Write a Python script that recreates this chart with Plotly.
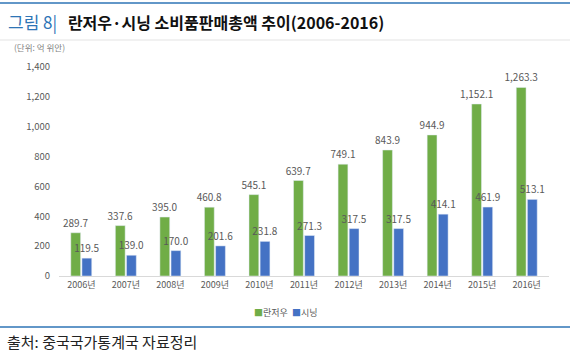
import plotly.graph_objects as go

years = ["2006년", "2007년", "2008년", "2009년", "2010년", "2011년",
         "2012년", "2013년", "2014년", "2015년", "2016년"]
lanzhou = [289.7, 337.6, 395.0, 460.8, 545.1, 639.7, 749.1, 843.9, 944.9, 1152.1, 1263.3]
xining = [119.5, 139.0, 170.0, 201.6, 231.8, 271.3, 317.5, 317.5, 414.1, 461.9, 513.1]
series_names = ["란저우", "시닝"]
series_colors = ["#70AD47", "#4472C4"]
yticks = [0, 200, 400, 600, 800, 1000, 1200, 1400]

W, H = 570, 360
FONT = "Noto Sans CJK KR"
GRAY = "#595959"

fig = go.Figure()
for name, vals, color in zip(series_names, [lanzhou, xining], series_colors):
    fig.add_trace(go.Bar(
        x=years, y=vals, name=name, marker_color=color,
        texttemplate="%{y:,.1f}", textposition="outside",
        constraintext="none",
        textfont=dict(family=FONT, size=10, color=GRAY),
        outsidetextfont=dict(family=FONT, size=10, color=GRAY),
        cliponaxis=False, showlegend=False,
    ))

legend_text = "  ".join(
    f"<span style='color:{c}'>■</span>{n}" for n, c in zip(series_names, series_colors))

fig.update_layout(
    width=W, height=H,
    margin=dict(l=0, r=0, t=0, b=0, autoexpand=False),
    paper_bgcolor="white", plot_bgcolor="white",
    barmode="group", bargap=0.5, bargroupgap=0.12,
    font=dict(family=FONT, color=GRAY),
    xaxis=dict(domain=[59 / W, 549 / W], showline=True, linecolor="#D9D9D9",
               linewidth=1, ticks="", tickfont=dict(family=FONT, size=9, color=GRAY)),
    yaxis=dict(domain=[(H - 276) / H, (H - 67) / H], range=[0, 1400],
               tickvals=yticks, tickformat=",", showgrid=False, zeroline=False,
               showline=False, ticklabelstandoff=8,
               tickfont=dict(family=FONT, size=9.5, color=GRAY)),
    shapes=[
        dict(type="line", xref="paper", yref="paper", x0=0, x1=1,
             y0=(H - 3) / H, y1=(H - 3) / H, line=dict(color="#2E75B6", width=1.5)),
        dict(type="line", xref="paper", yref="paper", x0=0, x1=1,
             y0=(H - 40) / H, y1=(H - 40) / H, line=dict(color="#E3E3E3", width=1)),
        dict(type="line", xref="paper", yref="paper", x0=0, x1=1,
             y0=(H - 327) / H, y1=(H - 327) / H, line=dict(color="#2E75B6", width=1.5)),
    ],
    annotations=[
        dict(xref="paper", yref="paper", x=6 / W, y=(H - 21) / H,
             xanchor="left", yanchor="middle", showarrow=False,
             text="<span style='color:#2E75B6;font-size:17px'>그림 8|</span>&nbsp;&nbsp;&nbsp;<b>란저우·시닝 소비품판매총액 추이(2006-2016)</b>",
             font=dict(family=FONT, size=16, color="#111111")),
        dict(xref="paper", yref="paper", x=12 / W, y=(H - 47) / H,
             xanchor="left", yanchor="middle", showarrow=False,
             text="(단위: 억 위안)", font=dict(family=FONT, size=8.5, color="#7F7F7F")),
        dict(xref="paper", yref="paper", x=0.5, y=(H - 312) / H,
             xanchor="center", yanchor="middle", showarrow=False,
             text=legend_text, font=dict(family=FONT, size=9, color=GRAY)),
        dict(xref="paper", yref="paper", x=5 / W, y=(H - 341) / H,
             xanchor="left", yanchor="middle", showarrow=False,
             text="출처: 중국국가통계국 자료정리",
             font=dict(family=FONT, size=15, color="#222222")),
    ],
)

fig.write_html("out.html", config={"displayModeBar": False},
               post_script="document.body.style.margin='0';")
